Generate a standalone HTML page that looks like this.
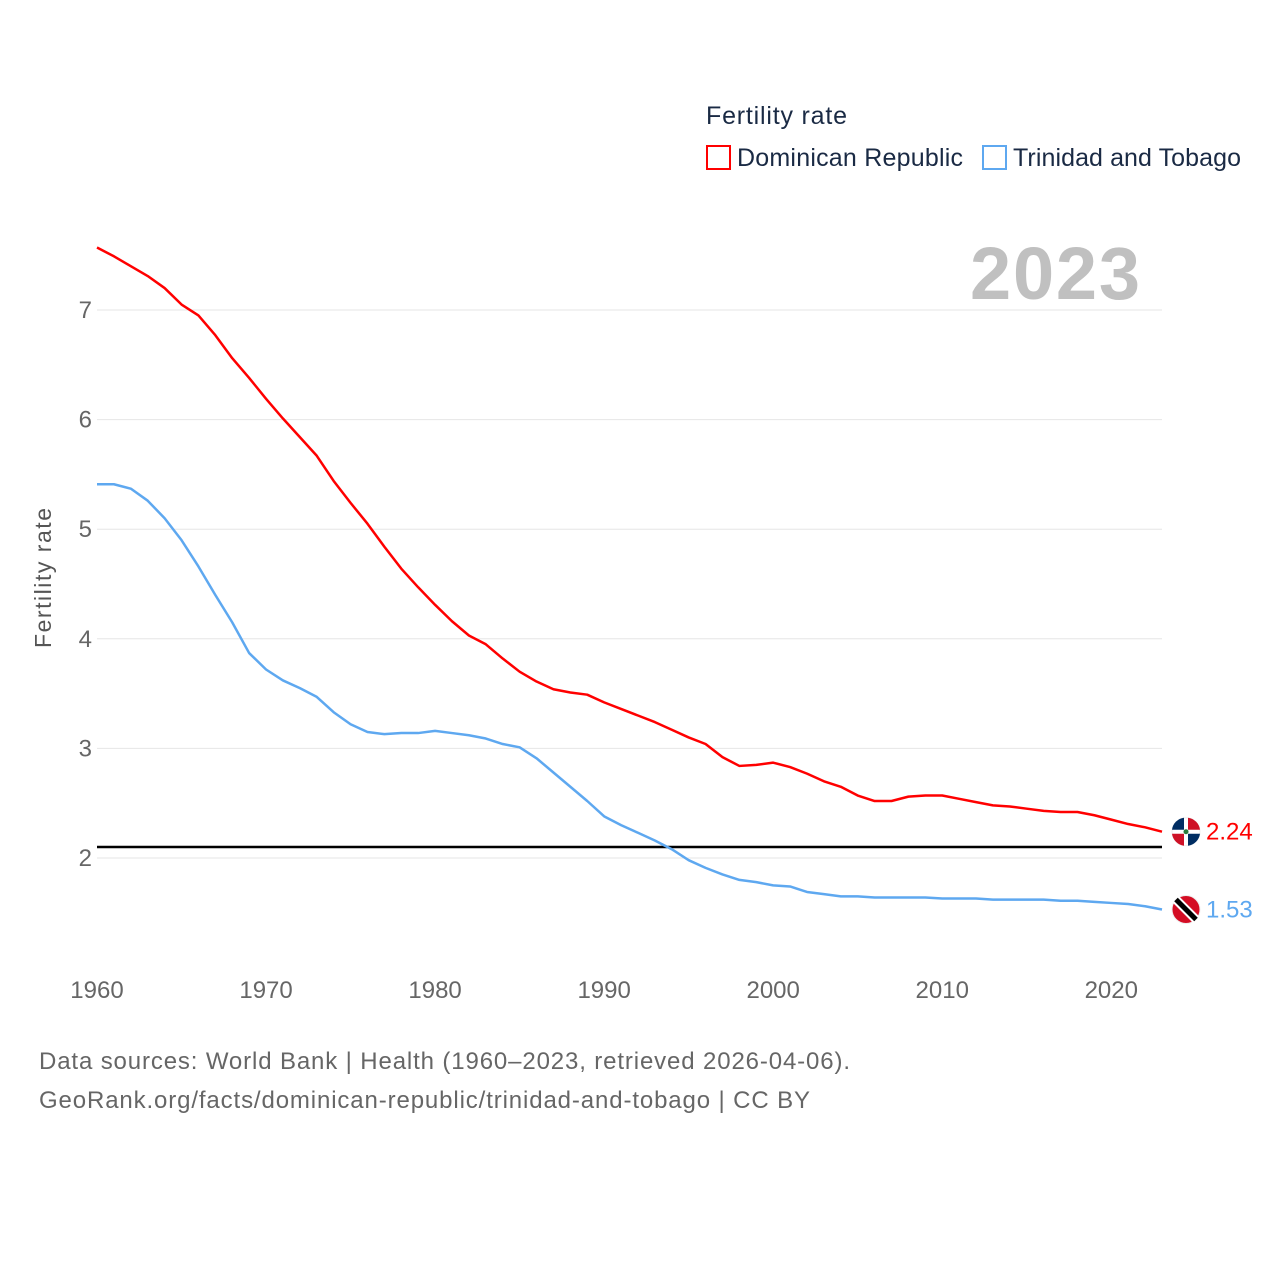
<!DOCTYPE html>
<html><head><meta charset="utf-8"><style>
body{margin:0;background:#fff;font-family:"Liberation Sans",sans-serif}
svg text{font-family:"Liberation Sans",sans-serif}
</style></head><body>
<svg width="1280" height="1280" viewBox="0 0 1280 1280">
<g>
<text x="706" y="124" font-size="25" fill="#1a2a44" textLength="141">Fertility rate</text>
<rect x="707" y="146" width="23" height="23" fill="none" stroke="#ff0000" stroke-width="2"/>
<text x="737" y="166" font-size="25" fill="#1a2a44" textLength="226">Dominican Republic</text>
<rect x="983" y="146" width="23" height="23" fill="none" stroke="#5ea8f0" stroke-width="2"/>
<text x="1013" y="166" font-size="25" fill="#1a2a44" textLength="228">Trinidad and Tobago</text>
</g>
<text x="1140" y="299" font-size="74" font-weight="bold" fill="#c0c0c0" text-anchor="end" textLength="170">2023</text>
<text transform="translate(51,578) rotate(-90)" font-size="23" fill="#555" text-anchor="middle" textLength="140">Fertility rate</text>
<g id="grid"></g><g id="yt"></g><g id="xt"></g><g id="lines"></g>
<text x="39" y="1069" font-size="24" fill="#666" textLength="811">Data sources: World Bank | Health (1960–2023, retrieved 2026-04-06).</text>
<text x="39" y="1108" font-size="24" fill="#666" textLength="771">GeoRank.org/facts/dominican-republic/trinidad-and-tobago | CC BY</text>
</svg>
<script>
const years=[];for(let y=1960;y<=2023;y++)years.push(y);
const drValues=[7.57,7.49,7.40,7.31,7.20,7.05,6.95,6.77,6.56,6.38,6.19,6.01,5.84,5.67,5.44,5.24,5.05,4.84,4.64,4.47,4.31,4.16,4.03,3.95,3.82,3.70,3.61,3.54,3.51,3.49,3.42,3.36,3.30,3.24,3.17,3.10,3.04,2.92,2.84,2.85,2.87,2.83,2.77,2.70,2.65,2.57,2.52,2.52,2.56,2.57,2.57,2.54,2.51,2.48,2.47,2.45,2.43,2.42,2.42,2.39,2.35,2.31,2.28,2.24];
const ttValues=[5.41,5.41,5.37,5.26,5.10,4.90,4.66,4.40,4.15,3.87,3.72,3.62,3.55,3.47,3.33,3.22,3.15,3.13,3.14,3.14,3.16,3.14,3.12,3.09,3.04,3.01,2.91,2.78,2.65,2.52,2.38,2.30,2.23,2.16,2.08,1.98,1.91,1.85,1.80,1.78,1.75,1.74,1.69,1.67,1.65,1.65,1.64,1.64,1.64,1.64,1.63,1.63,1.63,1.62,1.62,1.62,1.62,1.61,1.61,1.60,1.59,1.58,1.56,1.53];
const yTicks=[2,3,4,5,6,7];
const xTicks=[1960,1970,1980,1990,2000,2010,2020];
const replacementRate=2.1;
const NS="http://www.w3.org/2000/svg";
const X=y=>97+(y-1960)*(1162-97)/63;
const Y=v=>858-(v-2)*109.6;
function mk(t,a,p){const e=document.createElementNS(NS,t);for(const k in a)e.setAttribute(k,a[k]);document.getElementById(p).appendChild(e);return e;}
yTicks.forEach(v=>{
 const l=mk('line',{x1:97,x2:1162,y1:Y(v),y2:Y(v),stroke:'#e6e6e6','stroke-width':1},'grid');
 
 
 const t=mk('text',{x:92,y:Y(v)+8,'font-size':24,fill:'#666','text-anchor':'end'},'yt');t.textContent=v;
 
 
});
xTicks.forEach(v=>{
 const t=mk('text',{x:X(v),y:998,'font-size':24,fill:'#666','text-anchor':'middle'},'xt');t.textContent=v;
 
 
});
const rl=mk('line',{x1:97,x2:1162,y1:Y(replacementRate),y2:Y(replacementRate),stroke:'#000','stroke-width':2.5},'lines');


function series(vals,col,name){
 const p=mk('polyline',{points:vals.map((v,i)=>X(years[i])+','+Y(v)).join(' '),fill:'none',stroke:col,'stroke-width':2.5,'stroke-linejoin':'round'},'lines');
 
 
 const last=vals[vals.length-1],cy=Y(last);
 const c=mk('circle',{cx:1186,cy:cy,r:14,fill:name==='dominican-republic'?'#fff':'#d40d24',stroke:'#eee','stroke-width':1},'lines');
 
 
 if(name==='dominican-republic'){
  mk('path',{d:`M1172 ${cy-2}A14 14 0 0 1 1184 ${cy-14}V${cy-2}Z`,fill:'#002d62'},'lines');
  mk('path',{d:`M1188 ${cy-14}A14 14 0 0 1 1200 ${cy-2}H1188Z`,fill:'#ce1126'},'lines');
  mk('path',{d:`M1172 ${cy+2}A14 14 0 0 0 1184 ${cy+14}V${cy+2}Z`,fill:'#ce1126'},'lines');
  mk('path',{d:`M1188 ${cy+14}A14 14 0 0 0 1200 ${cy+2}H1188Z`,fill:'#002d62'},'lines');
  mk('circle',{cx:1186,cy:cy,r:2.5,fill:'#2a7a3a'},'lines');
 }else{
  mk('line',{x1:1176,y1:cy-10,x2:1196,y2:cy+10,stroke:'#fff','stroke-width':9},'lines');
  mk('line',{x1:1176,y1:cy-10,x2:1196,y2:cy+10,stroke:'#000','stroke-width':5},'lines');
 }
 const t=mk('text',{x:1206,y:cy+8,'font-size':24,fill:col},'lines');t.textContent=last.toFixed(2);
 
 
}
series(drValues,'#ff0000','dominican-republic');
series(ttValues,'#5ea8f0','trinidad-and-tobago');
</script>
</body></html>
